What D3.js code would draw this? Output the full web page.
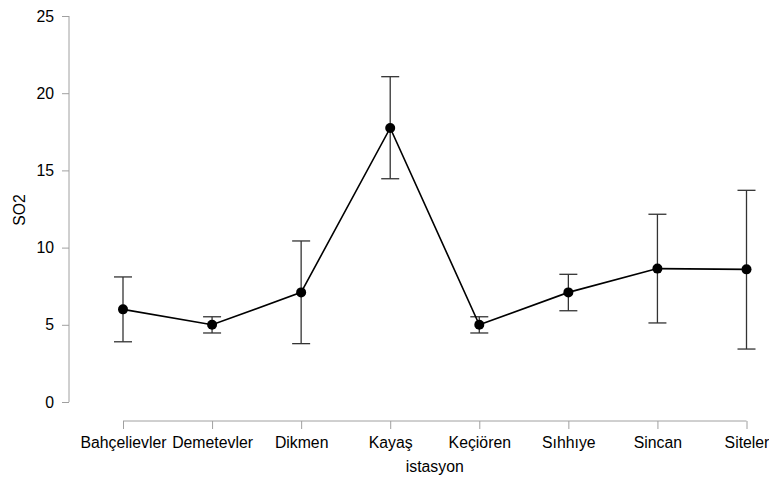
<!DOCTYPE html>
<html><head><meta charset="utf-8">
<script src="https://cdn.jsdelivr.net/npm/d3@7"></script>
<style>body{margin:0;background:#fff}svg text{font-family:Arial,"Liberation Sans",sans-serif}</style>
</head><body><svg id="c" width="769" height="482"></svg>
<script>
const categories = ["Bahçelievler","Demetevler","Dikmen","Kayaş","Keçiören","Sıhhıye","Sincan","Siteler"];
const means = [6.0, 5.0, 7.1, 17.75, 5.0, 7.1, 8.64, 8.59];
const upper = [8.1, 5.52, 10.43, 21.07, 5.52, 8.27, 12.16, 13.71];
const lower = [3.9, 4.47, 3.78, 14.46, 4.47, 5.91, 5.12, 3.43];
const yTicks = [0, 5, 10, 15, 20, 25];

const svg = d3.select("#c");
const x = d3.scalePoint().domain(categories).range([123, 746.5]);
const y = d3.scaleLinear().domain([0, 25]).range([402, 16]);
const fs = "15.8px";

// y axis
const ya = svg.append("g").attr("transform","translate(69,0)")
  .call(d3.axisLeft(y).tickValues(yTicks).tickSize(7).tickPadding(8));
ya.selectAll("path,line").attr("stroke","#a0a0a0");
ya.select(".domain").attr("d","M0,"+y(0)+"V"+y(25));
ya.selectAll("text").attr("font-size",fs).attr("fill","#000").attr("font-family","Arial, Liberation Sans, sans-serif");

// x axis
const xa = svg.append("g").attr("transform","translate(0,421)")
  .call(d3.axisBottom(x).tickSize(8).tickPadding(8));
xa.selectAll("path,line").attr("stroke","#a0a0a0");
xa.select(".domain").attr("d","M"+x.range()[0]+",0H"+x.range()[1]);
xa.selectAll("text").attr("font-size",fs).attr("fill","#000").attr("font-family","Arial, Liberation Sans, sans-serif");

// labels
svg.append("text").attr("x",x.range()[0] + (x.range()[1]-x.range()[0])/2).attr("y",472)
  .attr("text-anchor","middle").attr("font-size",fs).attr("fill","#000").text("istasyon");
svg.append("text").attr("transform","translate(25,210) rotate(-90)")
  .attr("text-anchor","middle").attr("font-size",fs).attr("fill","#000").text("SO2");

// error bars
const g = svg.append("g");
categories.forEach((c,i)=>{
  const cx = x(c);
  g.append("line").attr("x1",cx).attr("x2",cx).attr("y1",y(lower[i])).attr("y2",y(upper[i])).attr("stroke","#333").attr("stroke-width",1.3);
  [upper[i], lower[i]].forEach(v=>{
    g.append("line").attr("x1",cx-9).attr("x2",cx+9).attr("y1",y(v)).attr("y2",y(v)).attr("stroke","#333").attr("stroke-width",1.3);
  });
});

// line
svg.append("path").datum(means)
  .attr("d", d3.line().x((d,i)=>x(categories[i])).y(d=>y(d)))
  .attr("fill","none").attr("stroke","#000").attr("stroke-width",1.6);

// points
svg.append("g").selectAll("circle").data(means).join("circle")
  .attr("cx",(d,i)=>x(categories[i])).attr("cy",d=>y(d)).attr("r",5).attr("fill","#000");
</script></body></html>
